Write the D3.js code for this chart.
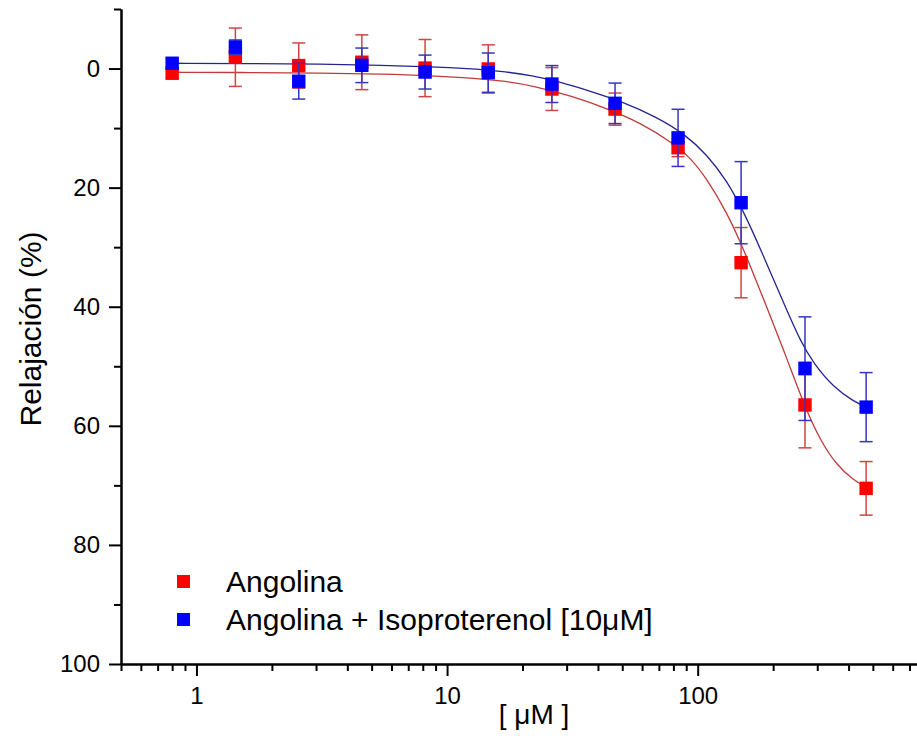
<!DOCTYPE html>
<html><head><meta charset="utf-8">
<script src="https://cdn.jsdelivr.net/npm/d3@7"></script>
<style>
body{margin:0;background:#fff;}
text{font-family:"Liberation Sans",Arial,Helvetica,sans-serif;fill:#000;}
</style>
</head><body>
<svg id="chart" width="917" height="736"></svg>
<script>
// ---- data ----
const concentrations = [0.80, 1.43, 2.56, 4.57, 8.17, 14.6, 26.2, 46.8, 83.5, 149, 268, 470];
const angolina       = [0.79, -1.90, -0.50, -1.06, -0.08, 0.07, 3.44, 6.81, 13.3, 32.6, 56.5, 70.5];
const angolinaErr    = [0.8, 4.9, 3.8, 4.6, 4.8, 4.05, 3.6, 2.7, 1.5, 5.9, 7.2, 4.5];
const angolinaIso    = [-0.89, -3.6, 2.13, -0.54, 0.59, 0.69, 2.6, 5.84, 11.64, 22.53, 50.4, 56.86];
const angolinaIsoErr = [0.8, 1.2, 3.0, 2.9, 2.85, 3.3, 3.1, 3.4, 4.8, 6.9, 8.7, 5.8];

// fitted curves, points
const fitAngolinaX = [0.80, 1.64, 3.11, 5.55, 8.79, 12.0, 16.3, 22.0, 31.9, 43.4, 58.9, 80.0, 93.2, 108.7, 130.6, 147.6, 161.8, 194.5, 226.7, 264.1, 307.7, 358.9, 418.0, 469.8];
const fitAngolinaY = [0.62, 0.67, 0.74, 0.92, 1.22, 1.56, 2.01, 2.85, 4.70, 6.71, 9.06, 12.58, 14.93, 18.46, 24.16, 29.03, 33.05, 41.44, 48.66, 56.21, 62.42, 66.61, 69.13, 70.30];
const fitIsoX = [0.80, 1.64, 3.11, 5.55, 8.79, 12.0, 16.3, 22.0, 28.2, 37.2, 49.8, 68.7, 89.1, 108.7, 130.6, 153.1, 179.0, 226.7, 256.2, 289.4, 347.9, 418.0, 469.8];
const fitIsoY = [-0.89, -0.84, -0.76, -0.55, -0.29, 0.0, 0.42, 1.17, 2.26, 3.78, 5.54, 8.14, 11.07, 14.43, 18.79, 24.16, 30.54, 40.60, 45.64, 49.50, 53.52, 55.87, 56.83];

const seriesNames = ["Angolina", "Angolina + Isoproterenol [10\u03BCM]"];
const xMajorTicks = [1, 10, 100];
const xMinorTicks = [0.5, 0.6, 0.7, 0.8, 0.9, 2, 3, 4, 5, 6, 7, 8, 9, 20, 30, 40, 50, 60, 70, 80, 90, 200, 300, 400, 500, 600, 700];
const yMajorTicks = [0, 20, 40, 60, 80, 100];
const yMinorTicks = [-10, 10, 30, 50, 70, 90];
const xDomain = [0.5, 750];
const yDomain = [-10, 100];
const xTitle = "[ \u03BCM ]";
const yTitle = "Relajación (%)";

// ---- styles ----
const colors = {
  redMark: "#ff0000", blueMark: "#0000ff",
  redLine: "#c03a3a", blueLine: "#24248f",
  redErr: "#cf4545", blueErr: "#3535c0"
};

const svg = d3.select("#chart");
const x = d3.scaleLog().domain(xDomain).range([121, 917]);
const y = d3.scaleLinear().domain(yDomain).range([9, 664]);

// ---- axes ----
function styleAxis(g) {
  g.select(".domain").attr("stroke", "#000").attr("stroke-width", 2);
  g.selectAll(".tick line").attr("stroke", "#000").attr("stroke-width", 2);
  g.selectAll("text").attr("font-size", 24).attr("fill", "#000")
    .attr("font-family", '"Liberation Sans",Arial,sans-serif');
}
const yMinor = svg.append("g").attr("transform", "translate(121,0)")
  .call(d3.axisLeft(y).tickValues(yMinorTicks).tickSize(7).tickSizeOuter(0).tickFormat(""));
styleAxis(yMinor);
const yMajor = svg.append("g").attr("transform", "translate(121,0)")
  .call(d3.axisLeft(y).tickValues(yMajorTicks).tickSize(12).tickPadding(9).tickSizeOuter(0).tickFormat(d3.format("d")));
styleAxis(yMajor);

const xMinor = svg.append("g").attr("transform", "translate(0,664)")
  .call(d3.axisBottom(x).tickValues(xMinorTicks).tickSize(7).tickSizeOuter(0).tickFormat(""));
styleAxis(xMinor);
const xMajor = svg.append("g").attr("transform", "translate(0,664)")
  .call(d3.axisBottom(x).tickValues(xMajorTicks).tickSize(12).tickPadding(11).tickSizeOuter(0).tickFormat(d => String(d)));
styleAxis(xMajor);

// axis titles
svg.append("text").attr("x", 534).attr("y", 724).attr("text-anchor", "middle")
  .attr("font-size", 28).text(xTitle);
svg.append("text").attr("transform", "translate(41,329) rotate(-90)")
  .attr("text-anchor", "middle").attr("font-size", 30).text(yTitle);

// ---- curves ----
const line = d3.line().x(d => x(d[0])).y(d => y(d[1])).curve(d3.curveBasis);
svg.append("path").datum(fitAngolinaX.map((v, i) => [v, fitAngolinaY[i]]))
  .attr("d", line).attr("fill", "none").attr("stroke", colors.redLine).attr("stroke-width", 1.3);
svg.append("path").datum(fitIsoX.map((v, i) => [v, fitIsoY[i]]))
  .attr("d", line).attr("fill", "none").attr("stroke", colors.blueLine).attr("stroke-width", 1.3);

// ---- error bars + markers ----
function drawSeries(vals, errs, errColor, markColor) {
  const g = svg.append("g");
  const data = concentrations.map((c, i) => ({c, v: vals[i], e: errs[i]}));
  const cap = 6.5;
  g.selectAll("line.v").data(data).join("line")
    .attr("x1", d => x(d.c)).attr("x2", d => x(d.c))
    .attr("y1", d => y(d.v - d.e)).attr("y2", d => y(d.v + d.e))
    .attr("stroke", errColor).attr("stroke-width", 1.5);
  g.selectAll("line.t").data(data).join("line")
    .attr("x1", d => x(d.c) - cap).attr("x2", d => x(d.c) + cap)
    .attr("y1", d => y(d.v - d.e)).attr("y2", d => y(d.v - d.e))
    .attr("stroke", errColor).attr("stroke-width", 1.5);
  g.selectAll("line.b").data(data).join("line")
    .attr("x1", d => x(d.c) - cap).attr("x2", d => x(d.c) + cap)
    .attr("y1", d => y(d.v + d.e)).attr("y2", d => y(d.v + d.e))
    .attr("stroke", errColor).attr("stroke-width", 1.5);
  g.selectAll("rect").data(data).join("rect")
    .attr("x", d => x(d.c) - 6.7).attr("y", d => y(d.v) - 6.7)
    .attr("width", 13.4).attr("height", 13.4).attr("fill", markColor);
}
drawSeries(angolina, angolinaErr, colors.redErr, colors.redMark);
drawSeries(angolinaIso, angolinaIsoErr, colors.blueErr, colors.blueMark);

// ---- legend ----
const legend = svg.append("g");
const legendItems = [
  {name: seriesNames[0], color: colors.redMark},
  {name: seriesNames[1], color: colors.blueMark}
];
legendItems.forEach((it, i) => {
  legend.append("rect").attr("x", 177).attr("y", 575 + i * 38).attr("width", 13).attr("height", 13).attr("fill", it.color);
  legend.append("text").attr("x", 226).attr("y", 592 + i * 38).attr("font-size", 30).text(it.name);
});
</script>
</body></html>
